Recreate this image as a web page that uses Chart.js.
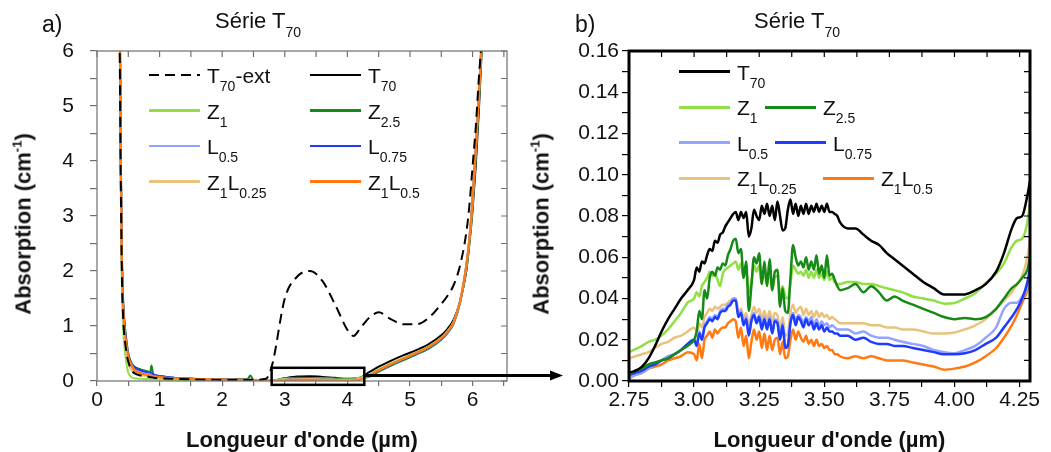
<!DOCTYPE html>
<html>
<head>
<meta charset="utf-8">
<script src="https://cdn.jsdelivr.net/npm/chart.js@4.4.0/dist/chart.umd.min.js"></script>
<style>
  body { margin: 0; background: #fff; }
  #wrap { position: relative; width: 1051px; height: 452px; overflow: hidden;
          font-family: 'Liberation Sans', Arial, sans-serif; color: #111; }
  #wrap canvas { position: absolute; left: 0; top: 0; }
  .t { position: absolute; white-space: nowrap; font-size: 21px; line-height: 21px; }
  .s { font-size: 14px; position: relative; top: 8px; }
  .sup { font-size: 13px; position: relative; top: -9px; }
  .title { font-size: 22px; line-height: 22px; }
  .title .s { top: 9px; }
  .panel { font-size: 23px; line-height: 23px; }
  .axt { font-weight: bold; font-size: 22px; line-height: 22px; }
  .ln { position: absolute; width: 51px; }
</style>
</head>
<body>
<div id="wrap">
  <canvas id="chartA" width="1051" height="452"></canvas>
  <canvas id="chartB" width="1051" height="452"></canvas>
</div>
<script>
// ---- panel a) : full spectrum ----
const xA = [0.35,0.36,0.37,0.38,0.39,0.40,0.42,0.45,0.48,0.50,0.55,0.60,0.70,0.80,0.85,0.87,0.90,1.0,
  1.2,1.5,2.0,2.4,2.45,2.5,2.7,2.8,3.0,3.2,3.4,3.6,3.8,4.0,4.1,4.2,4.35,4.5,4.7,4.9,5.1,5.3,5.5,5.6,
  5.7,5.8,5.9,5.95,6.0,6.05,6.1,6.15,6.2];
const aT70ext = [8.0,6.5,5.0,3.6,2.6,1.8,1.1,0.7,0.45,0.35,0.2,0.14,0.1,0.08,0.07,0.07,0.06,0.05,
  0.04,0.03,0.02,0.02,0.02,0.02,0.04,0.3,1.5,1.9,2.0,1.82,1.4,0.93,0.82,0.95,1.15,1.25,1.12,1.03,1.03,1.15,1.4,1.55,
  1.75,2.1,2.7,3.2,3.9,4.6,5.5,6.3,7.5];
const aT70 = [8.0,7.0,5.6,4.0,2.8,2.0,1.3,0.85,0.55,0.42,0.28,0.2,0.14,0.11,0.1,0.1,0.09,0.08,
  0.06,0.04,0.03,0.025,0.025,0.02,0.015,0.01,0.05,0.08,0.085,0.075,0.057,0.042,0.047,0.06,0.16,0.26,0.37,0.47,0.56,0.67,0.83,0.95,
  1.12,1.45,2.0,2.5,3.1,3.9,4.9,6.1,7.5];
const aZ1 = [8.0,6.8,5.2,3.6,2.4,1.6,0.9,0.5,0.25,0.15,0.07,0.05,0.04,0.035,0.03,0.03,0.03,0.025,
  0.02,0.02,0.015,0.015,0.015,0.015,0.014,0.017,0.04,0.054,0.052,0.048,0.043,0.038,0.045,0.06,0.12,0.21,0.32,0.42,0.52,0.63,0.79,0.91,
  1.08,1.44,2.05,2.55,3.2,4.1,5.1,6.2,7.5];
const aZ25 = [8.0,7.2,5.8,4.2,3.0,2.2,1.4,0.95,0.65,0.5,0.33,0.26,0.21,0.18,0.16,0.28,0.12,0.09,
  0.06,0.04,0.03,0.03,0.1,0.02,0.01,0.008,0.02,0.058,0.056,0.045,0.039,0.03,0.031,0.043,0.08,0.17,0.28,0.38,0.48,0.59,0.75,0.87,
  1.05,1.42,2.05,2.55,3.25,4.1,5.1,6.2,7.5];
const aL05 = [8.0,7.0,5.5,3.9,2.7,1.9,1.2,0.8,0.55,0.42,0.28,0.2,0.15,0.12,0.11,0.11,0.1,0.085,
  0.06,0.04,0.025,0.02,0.02,0.02,0.01,0.006,0.021,0.031,0.032,0.025,0.021,0.0135,0.017,0.035,0.1,0.19,0.3,0.4,0.5,0.61,0.77,0.89,
  1.07,1.44,2.1,2.6,3.3,4.2,5.2,6.3,7.5];
const aL075 = [8.0,7.1,5.7,4.1,2.9,2.1,1.35,0.9,0.62,0.48,0.32,0.25,0.19,0.16,0.15,0.15,0.12,0.09,
  0.06,0.04,0.03,0.025,0.025,0.02,0.01,0.005,0.02,0.03,0.031,0.022,0.017,0.013,0.015,0.033,0.1,0.19,0.3,0.4,0.5,0.61,0.77,0.89,
  1.07,1.44,2.1,2.6,3.3,4.2,5.2,6.3,7.5];
const aZ1L025 = [8.0,6.9,5.4,3.8,2.6,1.8,1.1,0.7,0.45,0.32,0.2,0.15,0.11,0.09,0.08,0.08,0.07,0.06,
  0.045,0.035,0.025,0.02,0.02,0.02,0.012,0.012,0.026,0.033,0.035,0.028,0.025,0.0235,0.028,0.043,0.11,0.2,0.31,0.41,0.51,0.62,0.78,0.9,
  1.08,1.45,2.1,2.6,3.3,4.2,5.2,6.3,7.5];
const aZ1L05 = [8.0,7.0,5.5,4.0,2.8,2.0,1.3,0.85,0.6,0.45,0.3,0.2,0.14,0.11,0.1,0.1,0.09,0.07,
  0.05,0.04,0.025,0.02,0.02,0.02,0.01,0.004,0.013,0.02,0.022,0.011,0.01,0.006,0.01,0.027,0.1,0.2,0.31,0.41,0.51,0.62,0.78,0.9,
  1.08,1.45,2.1,2.6,3.3,4.2,5.2,6.3,7.5];

// ---- panel b) : zoom 2.75 - 4.29 µm ----
const xB = [2.75,2.775,2.8,2.825,2.85,2.875,2.9,2.925,2.95,2.975,3.0,
  3.01,3.02,3.03,3.04,3.05,3.06,3.07,3.08,3.09,3.10,
  3.11,3.12,3.13,3.14,3.15,3.16,3.17,3.18,3.19,3.20,
  3.21,3.22,3.23,3.24,3.25,3.26,3.27,3.28,3.29,3.30,
  3.31,3.32,3.33,3.34,3.35,3.36,3.37,3.38,3.39,3.40,
  3.41,3.42,3.43,3.44,3.45,3.46,3.47,3.48,3.49,3.50,
  3.51,3.52,3.53,3.54,3.55,3.56,
  3.59,3.62,3.65,3.68,3.71,3.74,3.77,3.8,3.84,3.88,3.92,3.96,4.0,4.04,4.08,4.12,4.16,4.19,4.22,4.24,4.26,4.28,4.29];
const bT70 = [0.004,0.005,0.007,0.011,0.017,0.024,0.030,0.035,0.040,0.044,0.049,
  0.055,0.053,0.058,0.057,0.061,0.064,0.063,0.068,0.067,0.071,
  0.072,0.075,0.077,0.079,0.081,0.082,0.078,0.082,0.079,0.082,
  0.070,0.074,0.083,0.080,0.078,0.085,0.081,0.086,0.080,0.085,
  0.078,0.087,0.080,0.073,0.074,0.083,0.088,0.081,0.086,0.080,
  0.085,0.081,0.086,0.081,0.085,0.082,0.086,0.082,0.085,0.082,
  0.086,0.082,0.082,0.081,0.080,0.077,
  0.074,0.074,0.071,0.068,0.066,0.062,0.059,0.056,0.052,0.048,0.045,0.042,0.042,0.042,0.044,0.047,0.053,0.062,0.074,0.079,0.080,0.090,0.097];
const bZ1 = [0.014,0.0155,0.017,0.019,0.020,0.022,0.025,0.029,0.033,0.038,0.040,
  0.043,0.041,0.046,0.048,0.050,0.053,0.051,0.052,0.049,0.046,
  0.052,0.054,0.055,0.056,0.057,0.058,0.054,0.057,0.050,0.054,
  0.043,0.048,0.056,0.053,0.056,0.047,0.054,0.046,0.054,0.044,
  0.050,0.051,0.042,0.046,0.041,0.040,0.047,0.056,0.054,0.052,
  0.053,0.051,0.054,0.050,0.053,0.050,0.054,0.050,0.052,0.049,
  0.053,0.049,0.050,0.048,0.047,0.047,
  0.048,0.048,0.047,0.047,0.046,0.045,0.044,0.043,0.041,0.040,0.039,0.0375,0.0378,0.040,0.0426,0.0475,0.052,0.057,0.065,0.068,0.069,0.077,0.086];
const bZ25 = [0.003,0.005,0.006,0.008,0.009,0.010,0.011,0.013,0.015,0.017,0.020,
  0.024,0.034,0.030,0.044,0.040,0.050,0.053,0.051,0.055,0.054,
  0.057,0.056,0.061,0.064,0.068,0.069,0.062,0.064,0.050,0.058,
  0.034,0.046,0.060,0.057,0.062,0.047,0.058,0.046,0.059,0.044,
  0.053,0.054,0.036,0.045,0.034,0.033,0.050,0.066,0.060,0.056,
  0.058,0.055,0.060,0.054,0.058,0.054,0.061,0.052,0.056,0.050,
  0.061,0.051,0.052,0.049,0.046,0.044,
  0.045,0.047,0.043,0.046,0.043,0.039,0.041,0.039,0.037,0.035,0.033,0.031,0.030,0.0305,0.030,0.031,0.035,0.040,0.045,0.047,0.050,0.054,0.060];
const bL05 = [0.001,0.003,0.004,0.006,0.008,0.010,0.012,0.013,0.015,0.018,0.020,
  0.018,0.024,0.021,0.027,0.029,0.031,0.030,0.032,0.031,0.034,
  0.035,0.035,0.037,0.038,0.040,0.040,0.032,0.034,0.028,0.031,
  0.023,0.030,0.033,0.029,0.032,0.026,0.031,0.026,0.031,0.024,
  0.030,0.029,0.021,0.028,0.017,0.018,0.029,0.033,0.029,0.032,
  0.031,0.028,0.031,0.029,0.031,0.027,0.030,0.027,0.029,0.027,
  0.028,0.026,0.027,0.026,0.025,0.025,
  0.025,0.023,0.024,0.022,0.021,0.021,0.020,0.019,0.018,0.017,0.015,0.014,0.0135,0.015,0.017,0.021,0.026,0.035,0.038,0.038,0.041,0.045,0.048];
const bL075 = [0.003,0.004,0.005,0.007,0.008,0.010,0.011,0.013,0.015,0.018,0.020,
  0.017,0.023,0.020,0.026,0.028,0.030,0.029,0.031,0.030,0.033,
  0.034,0.034,0.036,0.037,0.039,0.039,0.031,0.033,0.027,0.030,
  0.022,0.029,0.032,0.028,0.031,0.025,0.030,0.025,0.030,0.023,
  0.029,0.028,0.020,0.027,0.016,0.017,0.028,0.032,0.027,0.031,
  0.029,0.026,0.030,0.027,0.029,0.025,0.028,0.025,0.027,0.024,
  0.026,0.024,0.024,0.023,0.023,0.022,
  0.022,0.020,0.021,0.019,0.018,0.018,0.017,0.017,0.016,0.015,0.014,0.013,0.013,0.0135,0.015,0.018,0.021,0.026,0.031,0.035,0.040,0.048,0.055];
const bZ1L025 = [0.011,0.012,0.013,0.014,0.016,0.018,0.019,0.021,0.022,0.024,0.026,
  0.024,0.028,0.026,0.031,0.033,0.035,0.034,0.036,0.035,0.036,
  0.037,0.037,0.038,0.039,0.040,0.040,0.033,0.035,0.031,0.033,
  0.027,0.032,0.036,0.033,0.035,0.030,0.034,0.030,0.034,0.029,
  0.033,0.032,0.025,0.031,0.022,0.023,0.033,0.037,0.033,0.035,
  0.036,0.032,0.035,0.032,0.034,0.031,0.034,0.031,0.033,0.031,
  0.032,0.030,0.031,0.030,0.029,0.028,
  0.028,0.028,0.028,0.027,0.027,0.026,0.026,0.025,0.025,0.024,0.023,0.023,0.0235,0.025,0.027,0.030,0.035,0.039,0.043,0.047,0.051,0.060,0.068];
const bZ1L05 = [0.002,0.003,0.004,0.006,0.007,0.008,0.010,0.011,0.012,0.014,0.013,
  0.010,0.018,0.011,0.020,0.022,0.024,0.021,0.025,0.023,0.025,
  0.026,0.026,0.028,0.029,0.030,0.029,0.021,0.026,0.017,0.022,
  0.011,0.019,0.025,0.020,0.024,0.016,0.023,0.015,0.022,0.015,
  0.020,0.021,0.013,0.019,0.011,0.012,0.020,0.025,0.020,0.024,
  0.021,0.019,0.022,0.018,0.020,0.017,0.020,0.017,0.018,0.016,
  0.017,0.015,0.015,0.013,0.013,0.012,
  0.011,0.012,0.011,0.012,0.011,0.010,0.010,0.010,0.009,0.008,0.007,0.0055,0.006,0.007,0.009,0.012,0.016,0.021,0.027,0.032,0.038,0.044,0.050];

// tick labels
const aXLabels = ['0','1','2','3','4','5','6'];
const aYLabels = ['0','1','2','3','4','5','6'];
const bXLabels = ['2.75','3.00','3.25','3.50','3.75','4.00','4.25'];
const bYLabels = ['0.00','0.02','0.04','0.06','0.08','0.10','0.12','0.14','0.16'];

// zoom window shown in a) and the arrow pointing to b)
const zoomBox = { x0: 2.79, x1: 4.27, y0: -0.07, y1: 0.24 };
const arrowY = 0.1;

const FONT = "'Liberation Sans', Arial, sans-serif";
const COL = {
  black: '#000000', z1: '#8fdf45', z25: '#168a16', l05: '#93a3ff',
  l075: '#1d3cff', z1l025: '#e9c27c', z1l05: '#ff7a12'
};

function pts(xs, ys) { return xs.map((x, i) => ({ x: x, y: ys[i] })); }

function line(label, xs, ys, color, width, order, dash) {
  return {
    label: label, data: pts(xs, ys), borderColor: color, borderWidth: width,
    borderDash: dash || [], pointRadius: 0, fill: false, order: order,
    cubicInterpolationMode: 'monotone'
  };
}

// frame around the plot + inward ticks on top and right
function framePlugin(color, width, tickColor, inLen) {
  return {
    id: 'frame',
    afterDatasetsDraw(chart) {
      const { ctx, chartArea: a, scales } = chart;
      ctx.save();
      ctx.strokeStyle = tickColor;
      ctx.lineWidth = 1.2;
      ctx.beginPath();
      scales.x.ticks.forEach(t => {
        const px = scales.x.getPixelForValue(t.value);
        ctx.moveTo(px, a.top); ctx.lineTo(px, a.top + inLen);
      });
      scales.y.ticks.forEach(t => {
        const py = scales.y.getPixelForValue(t.value);
        ctx.moveTo(a.right, py); ctx.lineTo(a.right - inLen, py);
      });
      ctx.stroke();
      ctx.strokeStyle = color;
      ctx.lineWidth = width;
      ctx.strokeRect(a.left, a.top, a.right - a.left, a.bottom - a.top);
      ctx.restore();
    }
  };
}

function axes(o) {
  return {
    x: {
      type: 'linear', min: o.xmin, max: o.xmax,
      afterFit: s => { s.height = 40; },
      border: { display: false },
      grid: { drawOnChartArea: false, drawTicks: true, tickLength: o.xTick, color: o.tickColor, lineWidth: 1.2 },
      ticks: {
        stepSize: o.xStep, includeBounds: false, autoSkip: false, maxRotation: 0,
        padding: o.xPad, color: '#111', font: { family: FONT, size: 21 },
        callback: v => { const s = o.xFmt(v); return o.xLabels.includes(s) ? s : ''; }
      }
    },
    y: {
      type: 'linear', min: o.ymin, max: o.ymax,
      afterFit: s => { s.width = o.yWidth; },
      border: { display: false },
      grid: { drawOnChartArea: false, drawTicks: true, tickLength: 7, color: o.tickColor, lineWidth: 1.2 },
      ticks: {
        stepSize: o.yStep, includeBounds: false, autoSkip: false,
        padding: o.yPad, color: '#111', font: { family: FONT, size: 21 },
        callback: v => { const s = o.yFmt(v); return o.yLabels.includes(s) ? s : ''; }
      }
    }
  };
}

const zoomBoxPlugin = {
  id: 'zoomBox',
  afterDraw(chart) {
    const sx = chart.scales.x, sy = chart.scales.y, ctx = chart.ctx;
    const l = sx.getPixelForValue(zoomBox.x0), r = sx.getPixelForValue(zoomBox.x1);
    const t = sy.getPixelForValue(zoomBox.y1), b = sy.getPixelForValue(zoomBox.y0);
    ctx.save();
    ctx.strokeStyle = '#000';
    ctx.lineWidth = 2.5;
    ctx.strokeRect(l, t, r - l, b - t);
    ctx.restore();
  }
};

const chartA = new Chart(document.getElementById('chartA'), {
  type: 'line',
  data: {
    datasets: [
      line('T70-ext', xA, aT70ext, COL.black, 2, 0, [10, 6]),
      line('Z1L0.5', xA, aZ1L05, COL.z1l05, 2.2, 1),
      line('Z1L0.25', xA, aZ1L025, COL.z1l025, 2, 2),
      line('L0.75', xA, aL075, COL.l075, 2, 3),
      line('L0.5', xA, aL05, COL.l05, 2, 4),
      line('Z2.5', xA, aZ25, COL.z25, 2, 5),
      line('Z1', xA, aZ1, COL.z1, 2, 6),
      line('T70', xA, aT70, COL.black, 2, 7)
    ]
  },
  options: {
    responsive: false, animation: false, events: [],
    layout: { padding: { left: 0, right: 544, top: 51, bottom: 31 } },
    plugins: { legend: { display: false }, tooltip: { enabled: false } },
    scales: axes({
      xmin: 0, xmax: 6.55, xStep: 0.5, xTick: 5, xPad: 2, xLabels: aXLabels,
      xFmt: v => String(Math.round(v * 1000) / 1000),
      ymin: 0, ymax: 6, yStep: 0.5, yPad: 16, yWidth: 97, yLabels: aYLabels,
      yFmt: v => String(Math.round(v * 1000) / 1000),
      tickColor: '#707070'
    })
  },
  plugins: [framePlugin('#7a7a7a', 1.3, '#707070', 6), zoomBoxPlugin]
});

const arrowPlugin = {
  id: 'zoomArrow',
  afterDraw(chart) {
    const sx = chartA.scales.x, sy = chartA.scales.y, ctx = chart.ctx;
    const x0 = sx.getPixelForValue(zoomBox.x1);
    const y = sy.getPixelForValue(arrowY);
    const x1 = chart.chartArea.left - 66;
    ctx.save();
    ctx.strokeStyle = '#000';
    ctx.fillStyle = '#000';
    ctx.lineWidth = 3;
    ctx.beginPath();
    ctx.moveTo(x0, y); ctx.lineTo(x1 - 10, y);
    ctx.stroke();
    ctx.beginPath();
    ctx.moveTo(x1, y); ctx.lineTo(x1 - 13, y - 5); ctx.lineTo(x1 - 13, y + 5);
    ctx.closePath();
    ctx.fill();
    ctx.restore();
  }
};

const chartB = new Chart(document.getElementById('chartB'), {
  type: 'line',
  data: {
    datasets: [
      line('T70', xB, bT70, COL.black, 2.5, 0),
      line('Z1', xB, bZ1, COL.z1, 2.5, 2),
      line('Z2.5', xB, bZ25, COL.z25, 2.5, 1),
      line('L0.5', xB, bL05, COL.l05, 2.5, 4),
      line('L0.75', xB, bL075, COL.l075, 2.5, 3),
      line('Z1L0.25', xB, bZ1L025, COL.z1l025, 2.5, 5),
      line('Z1L0.5', xB, bZ1L05, COL.z1l05, 2.5, 6)
    ]
  },
  options: {
    responsive: false, animation: false, events: [],
    layout: { padding: { left: 549, right: 21, top: 51, bottom: 31 } },
    plugins: { legend: { display: false }, tooltip: { enabled: false } },
    scales: axes({
      xmin: 2.75, xmax: 4.29, xStep: 0.125, xTick: 6, xPad: 1, xLabels: bXLabels,
      xFmt: v => v.toFixed(2),
      ymin: 0, ymax: 0.16, yStep: 0.01, yPad: 3, yWidth: 80, yLabels: bYLabels,
      yFmt: v => v.toFixed(2),
      tickColor: '#000'
    })
  },
  plugins: [framePlugin('#000', 3, '#000', 6), arrowPlugin]
});

// ---- text overlays (titles, axis titles, legends with subscripts) ----
const wrap = document.getElementById('wrap');
function txt(html, cls, left, top, extra) {
  const d = document.createElement('div');
  d.className = 't ' + (cls || '');
  d.innerHTML = html;
  d.style.left = left + 'px';
  d.style.top = top + 'px';
  if (extra) Object.assign(d.style, extra);
  wrap.appendChild(d);
  return d;
}
function sample(x, y, color, w, dash) {
  const d = document.createElement('div');
  d.className = 'ln';
  d.style.left = x + 'px';
  d.style.top = (y - w / 2) + 'px';
  d.style.height = w + 'px';
  d.style.background = dash
    ? 'repeating-linear-gradient(to right,' + color + ' 0 10px, transparent 10px 16px)'
    : color;
  wrap.appendChild(d);
}

const sub = s => '<span class="s">' + s + '</span>';
const legendA = [
  { html: 'T' + sub('70') + '-ext', c: COL.black, dash: true, x: 149, row: 0 },
  { html: 'T' + sub('70'), c: COL.black, x: 310, row: 0 },
  { html: 'Z' + sub('1'), c: COL.z1, x: 149, row: 1 },
  { html: 'Z' + sub('2.5'), c: COL.z25, x: 310, row: 1 },
  { html: 'L' + sub('0.5'), c: COL.l05, x: 149, row: 2 },
  { html: 'L' + sub('0.75'), c: COL.l075, x: 310, row: 2 },
  { html: 'Z' + sub('1') + 'L' + sub('0.25'), c: COL.z1l025, x: 149, row: 3 },
  { html: 'Z' + sub('1') + 'L' + sub('0.5'), c: COL.z1l05, x: 310, row: 3 }
];
legendA.forEach(e => {
  const y = 75 + 35.5 * e.row;
  sample(e.x, y, e.c, 2.2, e.dash);
  txt(e.html, '', e.x + 58, y - 10);
});

const legendB = [
  { html: 'T' + sub('70'), c: COL.black, x: 679, y: 71.5 },
  { html: 'Z' + sub('1'), c: COL.z1, x: 679, y: 107.3 },
  { html: 'Z' + sub('2.5'), c: COL.z25, x: 765, y: 107.3 },
  { html: 'L' + sub('0.5'), c: COL.l05, x: 679, y: 142.7 },
  { html: 'L' + sub('0.75'), c: COL.l075, x: 775, y: 142.7 },
  { html: 'Z' + sub('1') + 'L' + sub('0.25'), c: COL.z1l025, x: 679, y: 178.3 },
  { html: 'Z' + sub('1') + 'L' + sub('0.5'), c: COL.z1l05, x: 823, y: 178.3 }
];
legendB.forEach(e => {
  sample(e.x, e.y, e.c, 2.6);
  txt(e.html, '', e.x + 58, e.y - 10);
});

// panel titles
txt('a)', 'panel', 42, 13);
txt('b)', 'panel', 575, 13);
txt('Série T' + sub('70'), 'title', 215, 10);
txt('Série T' + sub('70'), 'title', 754, 10);

// axis titles
[chartA, chartB].forEach(ch => {
  const a = ch.chartArea;
  const xt = txt("Longueur d'onde (µm)", 'axt', (a.left + a.right) / 2, 429);
  xt.style.transform = 'translateX(-50%)';
});
const yCenters = [25, 542.5];
yCenters.forEach(cx => {
  const yt = txt('Absorption (cm<span class="sup">-1</span>)', 'axt', cx, 224);
  yt.style.transform = 'translate(-50%,-50%) rotate(-90deg)';
});
</script>
</body>
</html>
